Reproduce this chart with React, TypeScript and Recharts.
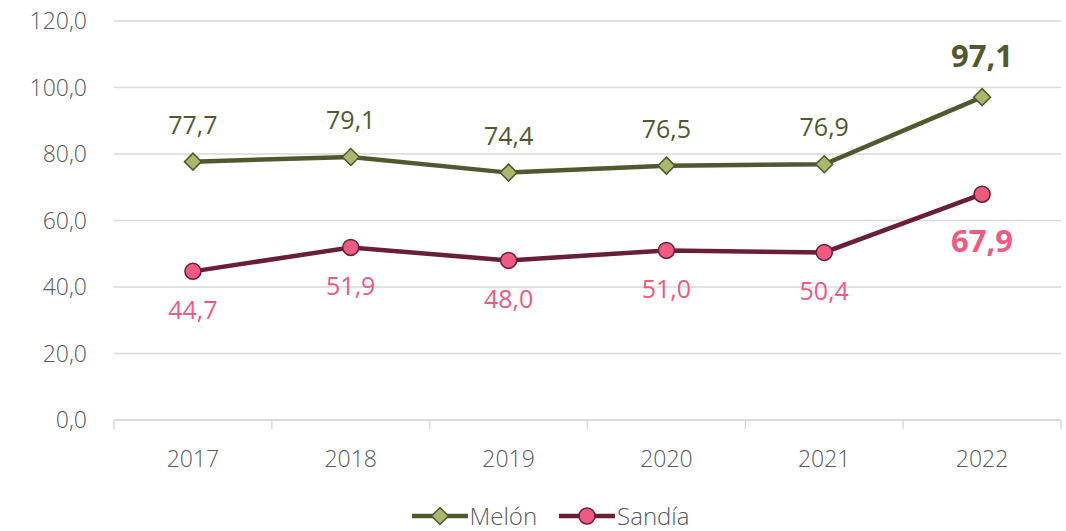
import React from 'react';
import { LineChart, Line, XAxis, YAxis, CartesianGrid, Legend, LabelList } from 'recharts';

const years = ['2017', '2018', '2019', '2020', '2021', '2022'];
const melon = [77.7, 79.1, 74.4, 76.5, 76.9, 97.1];
const sandia = [44.7, 51.9, 48.0, 51.0, 50.4, 67.9];
const yTicks = [0, 20, 40, 60, 80, 100, 120];

const data = years.map((year, i) => ({ x: i + 0.5, year, melon: melon[i], sandia: sandia[i] }));
const xTicks = Array.from({ length: years.length * 2 + 1 }, (_, i) => i / 2);

const FONT = '"Open Sans", "Noto Sans", sans-serif';
const AXIS_TEXT = '#595959';
const MELON_LINE = '#4E5A2E';
const MELON_FILL = '#A9B86A';
const SANDIA_LINE = '#6A1E38';
const SANDIA_FILL = '#EE5A80';
const fmt = (v: number) => v.toFixed(1).replace('.', ',');

const XTick = (props: any) => {
  const { x, y, payload } = props;
  const v = payload.value as number;
  if (Number.isInteger(v)) {
    return <line x1={x} x2={x} y1={y} y2={y + 9} stroke="#D9D9D9" strokeWidth={1.5} />;
  }
  const label = years[Math.floor(v)];
  return (
    <text x={x} y={y + 38} textAnchor="middle" dominantBaseline="central" fill={AXIS_TEXT}
      fontSize={23} fontWeight={300} fontFamily={FONT}>
      {label}
    </text>
  );
};

const Diamond = (props: any) => {
  const { cx, cy } = props;
  if (cx == null || cy == null) return null;
  const r = 8.5;
  return (
    <path d={`M${cx},${cy - r}L${cx + r},${cy}L${cx},${cy + r}L${cx - r},${cy}Z`} fill={MELON_FILL} stroke={MELON_LINE} strokeWidth={1.5} />
  );
};

const Circle = (props: any) => {
  const { cx, cy } = props;
  if (cx == null || cy == null) return null;
  return <circle cx={cx} cy={cy} r={8} fill={SANDIA_FILL} stroke={SANDIA_LINE} strokeWidth={1.5} />;
};

const melonLabel = (props: any) => {
  const { x, y, value, index } = props;
  const last = index === years.length - 1;
  return (
    <text x={x} y={y - (last ? 42 : 38)} textAnchor="middle" dominantBaseline="central" fill={MELON_LINE}
      fontSize={last ? 31 : 25} fontWeight={last ? 700 : 400} fontFamily={FONT}>
      {fmt(value)}
    </text>
  );
};

const sandiaLabel = (props: any) => {
  const { x, y, value, index } = props;
  const last = index === years.length - 1;
  return (
    <text x={x} y={y + (last ? 46 : 38)} textAnchor="middle" dominantBaseline="central" fill={SANDIA_FILL}
      fontSize={last ? 31 : 25} fontWeight={last ? 700 : 400} fontFamily={FONT}>
      {fmt(value)}
    </text>
  );
};

const LegendContent = () => {
  const item = (name: string, line: string, marker: React.ReactNode) => (
    <span style={{ display: 'inline-flex', alignItems: 'center', margin: '0 11px' }}>
      <svg width={56} height={20}>
        <line x1={0} x2={56} y1={10} y2={10} stroke={line} strokeWidth={4.5} />
        {marker}
      </svg>
      <span style={{ color: AXIS_TEXT, fontSize: 24, fontWeight: 300, fontFamily: FONT, marginLeft: 2, lineHeight: '26px' }}>{name}</span>
    </span>
  );
  return (
    <div style={{ textAlign: 'center', paddingTop: 12, paddingLeft: 40 }}>
      {item('Melón', MELON_LINE, <Diamond cx={28} cy={10} />)}
      {item('Sandía', SANDIA_LINE, <Circle cx={28} cy={10} />)}
    </div>
  );
};

export default function App() {
  return (
    <div style={{ position: 'absolute', left: 0, top: 0, background: '#fff' }}>
      <LineChart width={1066} height={531} data={data} margin={{ top: 21, right: 5, left: 0, bottom: 0 }}>
        <CartesianGrid vertical={false} stroke="#D9D9D9" strokeWidth={1.5} />
        <XAxis
          dataKey="x"
          type="number"
          domain={[0, years.length]}
          ticks={xTicks}
          interval={0}
          height={71}
          tickLine={false}
          tickSize={0}
          tickMargin={0}
          axisLine={{ stroke: '#D9D9D9', strokeWidth: 1.5 }}
          tick={<XTick />}
        />
        <YAxis
          domain={[0, 120]}
          ticks={yTicks}
          width={114}
          axisLine={false}
          tickLine={false}
          tickSize={0}
          tickMargin={27}
          tickFormatter={fmt}
          tick={{ fill: AXIS_TEXT, fontSize: 23, fontWeight: 300, fontFamily: FONT }}
        />
        <Legend verticalAlign="bottom" height={40} content={<LegendContent />} />
        <Line dataKey="melon" name="Melón" stroke={MELON_LINE} strokeWidth={4.5} dot={<Diamond />} activeDot={false} isAnimationActive={false}>
          <LabelList dataKey="melon" content={melonLabel} />
        </Line>
        <Line dataKey="sandia" name="Sandía" stroke={SANDIA_LINE} strokeWidth={4.5} dot={<Circle />} activeDot={false} isAnimationActive={false}>
          <LabelList dataKey="sandia" content={sandiaLabel} />
        </Line>
      </LineChart>
    </div>
  );
}
